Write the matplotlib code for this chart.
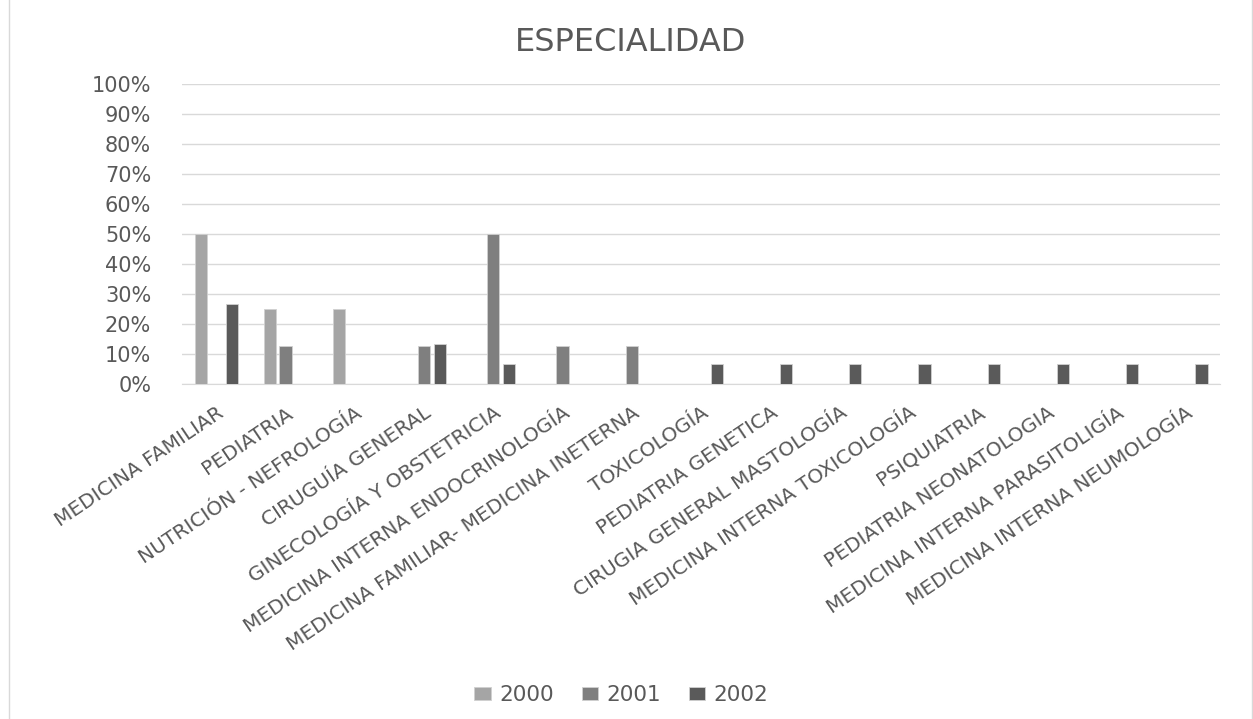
import numpy as np
import matplotlib.pyplot as plt
from matplotlib.ticker import PercentFormatter

categories = [
    'MEDICINA FAMILIAR', 'PEDIATRIA', 'NUTRICIÓN - NEFROLOGÍA', 'CIRUGUÍA GENERAL',
    'GINECOLOGÍA Y OBSTETRICIA', 'MEDICINA INTERNA ENDOCRINOLOGÍA',
    'MEDICINA FAMILIAR- MEDICINA INETERNA', 'TOXICOLOGÍA', 'PEDIATRIA GENETICA',
    'CIRUGIA GENERAL MASTOLOGÍA', 'MEDICINA INTERNA TOXICOLOGÍA', 'PSIQUIATRIA',
    'PEDIATRIA NEONATOLOGIA', 'MEDICINA INTERNA PARASITOLIGÍA',
    'MEDICINA INTERNA NEUMOLOGÍA',
]
years = ['2000', '2001', '2002']
v2000 = [50, 25, 25, 0, 0, 0, 0, 0, 0, 0, 0, 0, 0, 0, 0]
v2001 = [0, 12.5, 0, 12.5, 50, 12.5, 12.5, 0, 0, 0, 0, 0, 0, 0, 0]
v2002 = [26.67, 0, 0, 13.33, 6.67, 0, 0, 6.67, 6.67, 6.67, 6.67, 6.67, 6.67, 6.67, 6.67]
colors = ['#a5a5a5', '#7f7f7f', '#5a5a5a']
text_col = '#595959'

fig = plt.figure(figsize=(12.53, 7.19), dpi=100)
ax = fig.add_axes([0.145, 0.466, 0.829, 0.417])

x = np.arange(len(categories))
w = 0.175
step = 0.227
for i, (vals, c, lab) in enumerate(zip([v2000, v2001, v2002], colors, years)):
    ax.bar(x + (i - 1) * step, vals, width=w, color=c, label=lab,
           edgecolor='#d0d0d0', linewidth=0.6, zorder=3)

ax.set_xlim(-0.5, len(categories) - 0.5)
ax.set_ylim(0, 100)
ax.set_yticks(np.arange(0, 101, 10))
ax.yaxis.set_major_formatter(PercentFormatter(decimals=0))
ax.grid(axis='y', color='#d9d9d9', linewidth=1, zorder=0)
for s in ['top', 'right', 'left']:
    ax.spines[s].set_visible(False)
ax.spines['bottom'].set_color('#d9d9d9')
ax.tick_params(axis='y', length=0, colors=text_col, labelsize=15, pad=22)
ax.tick_params(axis='x', length=0, colors=text_col, pad=14)
ax.set_xticks(x)
ax.set_xticklabels(categories, rotation=34, ha='right', rotation_mode='anchor',
                   fontsize=14.5, color=text_col)

fig.suptitle('ESPECIALIDAD', x=0.503, y=0.962, fontsize=23, color=text_col)
fig.legend(loc='lower center', bbox_to_anchor=(0.496, -0.007), ncol=3, frameon=False,
           fontsize=15.5, labelcolor=text_col, handlelength=0.75, handleheight=0.55,
           handletextpad=0.4, columnspacing=1.3)

border = plt.Rectangle((0.007, -0.01), 0.992, 1.02, transform=fig.transFigure,
                       fill=False, edgecolor='#d9d9d9', linewidth=1)
fig.patches.append(border)

fig.savefig('out.png', dpi=100)
